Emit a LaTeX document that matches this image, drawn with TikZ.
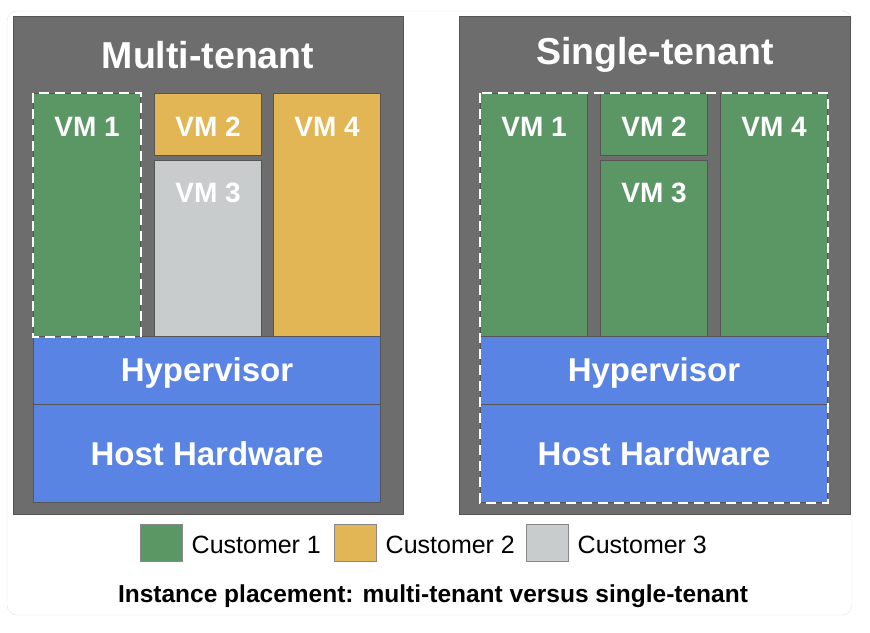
\documentclass[tikz,border=0pt]{standalone}
\usepackage{fontspec}
\setmainfont{Liberation Sans}
\usepackage{tikz}
\usetikzlibrary{positioning}

\definecolor{panelgray}{HTML}{6D6D6D}
\definecolor{custgreen}{HTML}{5B9764}
\definecolor{custgold}{HTML}{E3B655}
\definecolor{custgray}{HTML}{C9CCCC}
\definecolor{hostblue}{HTML}{5A84E3}
\definecolor{cardline}{HTML}{E4E4E4}
\definecolor{edgegray}{HTML}{555555}

\begin{document}
\begin{tikzpicture}[x=1pt,y=-1pt]
        \tikzstyle{panel}=[
            rectangle,
            draw=edgegray,
            fill=panelgray,
            inner sep=0pt,
            anchor=north west
        ]
        \tikzstyle{vmbox}=[
            rectangle,
            draw=edgegray,
            line width=1pt,
            inner sep=0pt,
            anchor=north west
        ]
        \tikzstyle{title}=[
            text=white,
            font=\bfseries\fontsize{37.5}{40}\selectfont
        ]
        \tikzstyle{vmtext}=[
            text=white,
            font=\bfseries\fontsize{28}{30}\selectfont
        ]
        \tikzstyle{hosttext}=[
            text=white,
            font=\bfseries\fontsize{33}{36}\selectfont
        ]
        \tikzstyle{legbox}=[
            rectangle,
            draw=edgegray!70,
            line width=1pt,
            minimum width=42pt,
            minimum height=37pt,
            inner sep=0pt
        ]
        \tikzstyle{legtext}=[
            inner sep=0pt,
            font=\fontsize{25}{28}\selectfont
        ]
        \tikzstyle{tenancy}=[
            white,
            line width=2.5pt,
            dash pattern=on 10pt off 6pt
        ]

        \useasboundingbox (0,0) rectangle (870,632);
        \draw[cardline, fill=white, rounded corners=10pt] (7,11) rectangle (852,615);

        % multi-tenant host
        \node[panel, minimum width=390pt, minimum height=498pt] (mpanel) at (13,16) {};
        \node[title] (mtitle) at (208,55) {Multi-tenant};
        \node[vmbox, fill=custgreen, minimum width=107pt, minimum height=243pt] (mvm1) at (33,93) {};
        \node[vmbox, fill=custgold, minimum width=107pt, minimum height=62pt] (mvm2) at (154,93) {};
        \node[vmbox, fill=custgray, minimum width=107pt, minimum height=176pt] (mvm3) at (154,160) {};
        \node[vmbox, fill=custgold, minimum width=107pt, minimum height=243pt] (mvm4) at (273,93) {};
        \node[vmbox, fill=hostblue, minimum width=347pt, minimum height=68pt] (mhyp) at (33,336) {};
        \node[vmbox, fill=hostblue, minimum width=347pt, minimum height=98pt] (mhw) at (33,404) {};
        \node[vmtext] at ([yshift=-34pt]mvm1.north) {VM 1};
        \node[vmtext] at ([yshift=-34pt]mvm2.north) {VM 2};
        \node[vmtext] at ([yshift=-33pt]mvm3.north) {VM 3};
        \node[vmtext] at ([yshift=-34pt]mvm4.north) {VM 4};
        \node[hosttext] at ([yshift=-2pt]mhyp.center) {Hypervisor};
        \node[hosttext] at (mhw.center) {Host Hardware};
        \draw[tenancy] (mvm1.north west) rectangle (mvm1.south east);

        % single-tenant host
        \node[panel, minimum width=391pt, minimum height=498pt] (spanel) at (459,16) {};
        \node[title] (stitle) at (655,55) {Single-tenant};
        \node[vmbox, fill=custgreen, minimum width=107pt, minimum height=243pt] (svm1) at (480,93) {};
        \node[vmbox, fill=custgreen, minimum width=107pt, minimum height=62pt] (svm2) at (600,93) {};
        \node[vmbox, fill=custgreen, minimum width=107pt, minimum height=176pt] (svm3) at (600,160) {};
        \node[vmbox, fill=custgreen, minimum width=107pt, minimum height=243pt] (svm4) at (720,93) {};
        \node[vmbox, fill=hostblue, minimum width=347pt, minimum height=68pt] (shyp) at (480,336) {};
        \node[vmbox, fill=hostblue, minimum width=347pt, minimum height=98pt] (shw) at (480,404) {};
        \node[vmtext] at ([yshift=-34pt]svm1.north) {VM 1};
        \node[vmtext] at ([yshift=-34pt]svm2.north) {VM 2};
        \node[vmtext] at ([yshift=-33pt]svm3.north) {VM 3};
        \node[vmtext] at ([yshift=-34pt]svm4.north) {VM 4};
        \node[hosttext] at ([yshift=-2pt]shyp.center) {Hypervisor};
        \node[hosttext] at (shw.center) {Host Hardware};
        \draw[tenancy] (svm1.north west) rectangle (shw.south east);

        % legend
        \node[legbox, fill=custgreen] (leg1) at (161,543) {};
        \node[legtext, right=9pt of leg1, yshift=-2pt] (legt1) {Customer 1};
        \node[legbox, fill=custgold] (leg2) at (355,543) {};
        \node[legtext, right=9pt of leg2, yshift=-2pt] (legt2) {Customer 2};
        \node[legbox, fill=custgray] (leg3) at (547,543) {};
        \node[legtext, right=9pt of leg3, yshift=-2pt] (legt3) {Customer 3};

        \node[font=\bfseries\fontsize{24.5}{27}\selectfont] (caption) at (433,596) {Instance placement: multi-tenant versus single-tenant};
    \end{tikzpicture}
\end{document}
